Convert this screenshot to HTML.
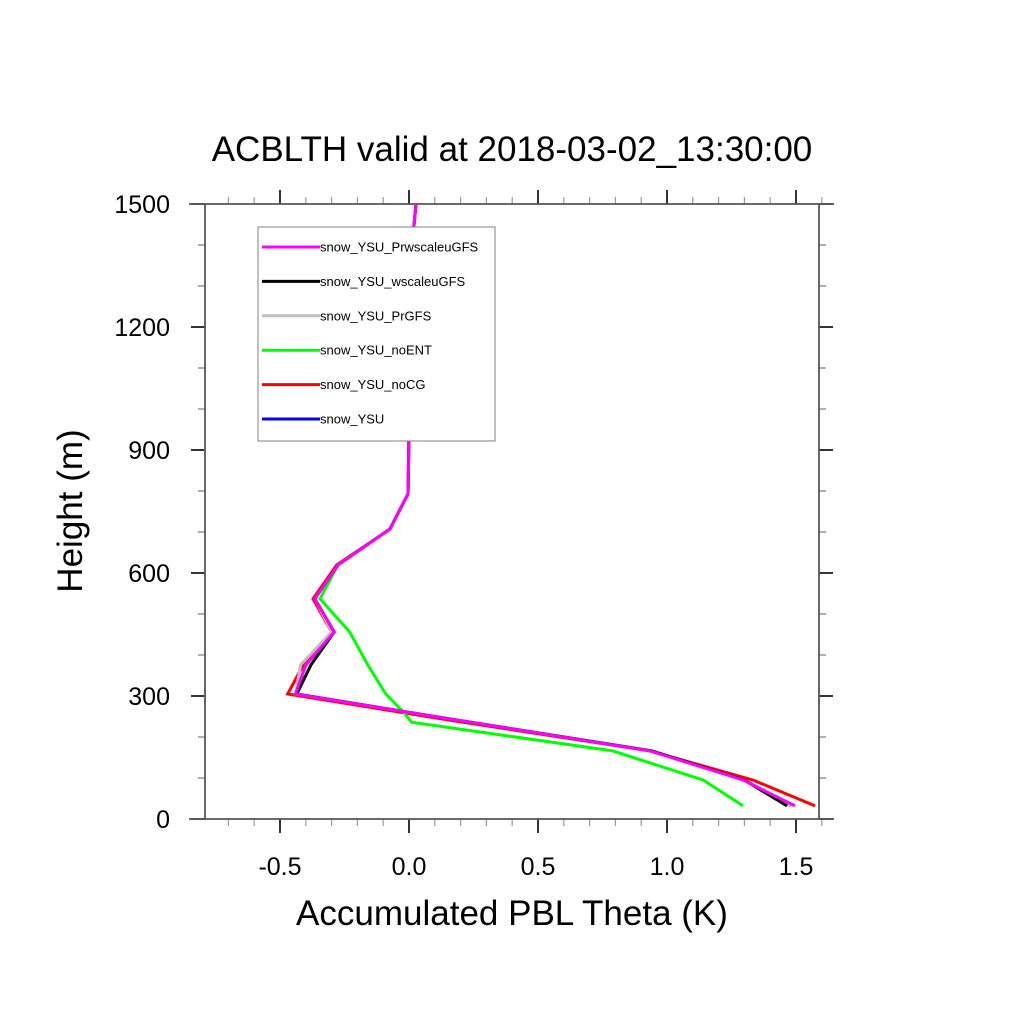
<!DOCTYPE html>
<html><head><meta charset="utf-8"><style>
html,body{margin:0;padding:0;background:#fff;}
svg text{font-family:"Liberation Sans",sans-serif;}
</style></head><body>
<svg id="chart" width="1024" height="1024" xmlns="http://www.w3.org/2000/svg">
<text x="512" y="161" font-size="35" text-anchor="middle">ACBLTH valid at 2018-03-02_13:30:00</text>
<text x="512" y="925" font-size="35" text-anchor="middle">Accumulated PBL Theta (K)</text>
<text transform="translate(82,511) rotate(-90)" font-size="35" text-anchor="middle">Height (m)</text>
<g id="axes"></g>
<g id="series"></g>
<g id="legend"></g>
</svg>
<script>
const xTicks=[-0.5,0,0.5,1.0,1.5];
const xTickLabels=["-0.5","0.0","0.5","1.0","1.5"];
const yTicks=[0,300,600,900,1200,1500];
const yTickLabels=["0","300","600","900","1200","1500"];
const seriesNames=["snow_YSU","snow_YSU_noCG","snow_YSU_noENT","snow_YSU_PrGFS","snow_YSU_wscaleuGFS","snow_YSU_PrwscaleuGFS"];
const seriesColors=["#0000ff","#ff0000","#00ff00","#bebebe","#000000","#ff00ff"];
const hMain=[32,95,166,244,305,376,456,537,620,707,793,1400,1500];
const hGreen=[32,95,166,236,260,305,376,456,537,620,707,793,1400,1500];
const vBlue=[1.48,1.30,0.94,0.16,-0.44,-0.40,-0.29,-0.365,-0.275,-0.074,-0.004,0.012,0.027];
const vRed=[1.574,1.333,0.934,0.13,-0.47,-0.41,-0.30,-0.372,-0.28,-0.074,-0.004,0.012,0.027];
const vGreen=[1.295,1.14,0.79,0.01,-0.02,-0.09,-0.16,-0.23,-0.345,-0.275,-0.074,-0.004,0.012,0.027];
const vGray=[1.48,1.30,0.94,0.16,-0.44,-0.42,-0.30,-0.365,-0.275,-0.074,-0.004,0.012,0.027];
const vBlack=[1.465,1.30,0.94,0.16,-0.435,-0.38,-0.29,-0.365,-0.275,-0.074,-0.004,0.012,0.027];
const vMagenta=[1.496,1.295,0.934,0.16,-0.44,-0.40,-0.29,-0.365,-0.275,-0.074,-0.004,0.012,0.027];
const seriesH=[hMain,hMain,hGreen,hMain,hMain,hMain];
const seriesV=[vBlue,vRed,vGreen,vGray,vBlack,vMagenta];

const L=205,R=819,T=204,B=819,XL=189,XR=834,X0=409,XS=258,YS=0.41;
const xS=v=>X0+v*XS, yS=h=>B-h*YS;
const NS="http://www.w3.org/2000/svg";
function mk(tag,attrs,parent){const e=document.createElementNS(NS,tag);for(const k in attrs)e.setAttribute(k,attrs[k]);parent.appendChild(e);return e;}
const ax=document.getElementById('axes');
for(let i=-7;i<=16;i++){const v=i/10;const x=xS(v);const major=(i%5===0);const len=major?14:7;
 let t=mk('line',{x1:x,x2:x,y1:B,y2:B+len,stroke:major?'#000':'#999','stroke-width':major?1.6:1.2},ax);
 
 
 let t2=mk('line',{x1:x,x2:x,y1:T,y2:T-len,stroke:major?'#000':'#999','stroke-width':major?1.6:1.2},ax);
 
 }
for(let h=0;h<=1500;h+=100){const y=yS(h);const major=(h%300===0);const len=major?14:7;
 let t=mk('line',{x1:L,x2:L-len,y1:y,y2:y,stroke:major?'#000':'#777','stroke-width':major?1.6:1.2},ax);
 
 
 let t2=mk('line',{x1:R,x2:R+len,y1:y,y2:y,stroke:major?'#000':'#777','stroke-width':major?1.6:1.2},ax);
 
 }
xTicks.forEach((v,i)=>{const t=mk('text',{x:xS(v),y:875,'font-size':25,'text-anchor':'middle'},ax);t.textContent=xTickLabels[i];
 
 });
yTicks.forEach((h,i)=>{const t=mk('text',{x:170,y:yS(h)+9,'font-size':25,'text-anchor':'end'},ax);t.textContent=yTickLabels[i];
 
 });
[[XL,B,XR,B,'x-axis-bottom'],[XL,T,XR,T,'x-axis-top'],[L,T,L,B,'y-axis-left'],[R,T,R,B,'y-axis-right']].forEach(a=>{
 const l=mk('line',{x1:a[0],y1:a[1],x2:a[2],y2:a[3],stroke:'#555','stroke-width':1.8},ax);
 
 });
const sg=document.getElementById('series');
seriesNames.forEach((n,i)=>{const pts=seriesH[i].map((h,j)=>xS(seriesV[i][j]).toFixed(1)+','+yS(h).toFixed(1)).join(' ');
 const p=mk('polyline',{points:pts,fill:'none',stroke:seriesColors[i],'stroke-width':3,'stroke-linejoin':'miter'},sg);
 
 });
const lg=document.getElementById('legend');
const box=mk('rect',{x:258,y:227,width:237,height:214,fill:'#fff',stroke:'#808080','stroke-width':1},lg);


for(let k=0;k<6;k++){const i=5-k;const y=247+k*34.4;
 const l=mk('line',{x1:262,x2:320,y1:y,y2:y,stroke:seriesColors[i],'stroke-width':3},lg);
 
 
 const t=mk('text',{x:320,y:y+4.5,'font-size':13},lg);t.textContent=seriesNames[i];
 
 }
</script>
</body></html>
